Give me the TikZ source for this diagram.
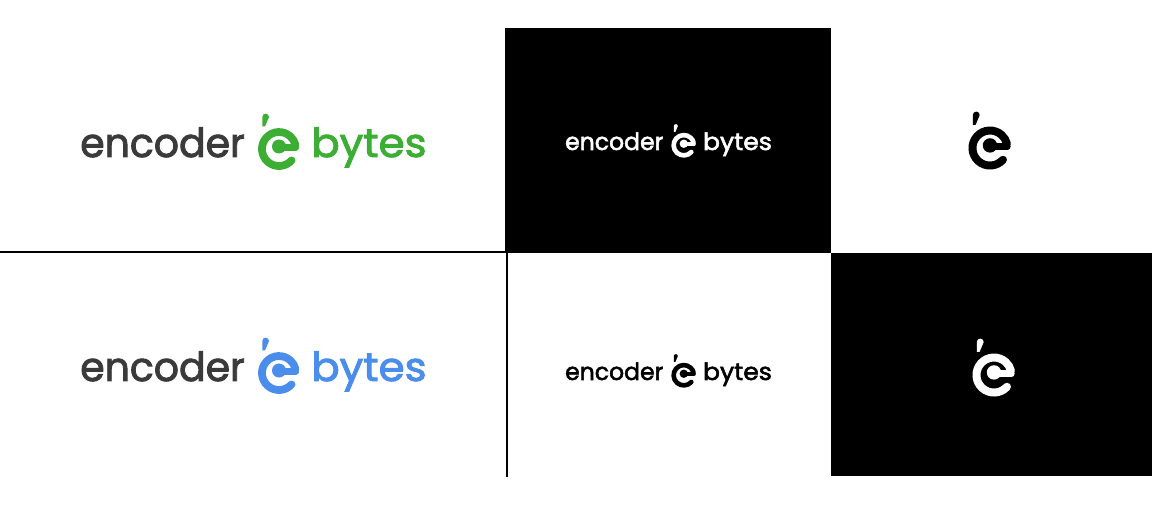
\documentclass[tikz,border=0pt]{standalone}
\usepackage{fontspec}
\setmainfont{Poppins}
\newfontfamily\logofont[FakeBold=2.2]{Poppins}
\definecolor{logogreen}{HTML}{3DAE34}
\definecolor{logoblue}{HTML}{4A8DEB}
\definecolor{logogrey}{HTML}{3A3A3A}
\tikzset{
  x=0.75pt,y=-0.75pt,
  panel/.style={fill=black,draw=none},
  rule/.style={line width=2.1pt,draw=black},
  word/.style={inner sep=0pt,font=\logofont\fontsize{30}{30}\selectfont,anchor=base west},
}
% mark drawn around its ring centre, in a unit of one pixel of the large logo
\newcommand\logomark[4]{% x, y, scale, colour
  \begin{scope}[shift={(#1,#2)},scale=#3]
    \fill[#4] (-16.7,-22.5) -- (-16.7,-32) arc[start angle=180,end angle=360,radius=3.35] -- (-14,-22.5) -- cycle;
    \draw[#4,line cap=round,line width=5.8*#3pt] (12.6,11.4) arc[start angle=42,end angle=345,radius=17];
    \draw[#4,line cap=round,line width=4.6*#3pt] (17,-1.5) -- (0,-1.5);
    \fill[#4] (0,-2.5) circle[radius=7];
  \end{scope}}
\newcommand\logotext[7]{% name, x, y, scale, colour, colour, mark offset
  \node[word,text=#5,xscale=#4*0.985,yscale=#4] (#1a) at (#2,#3) {encoder};
  \node[word,text=#6,xscale=#4*1.05,yscale=#4] (#1b) at ({#2+231*#4},#3) {bytes};
  \logomark{#2+#7*#4}{#3-8*#4}{#4}{#6}}
\begin{document}
\begin{tikzpicture}
\useasboundingbox (0,0) rectangle (1152,505);
\fill[white] (0,0) rectangle (1152,505);
\fill[panel] (505.3,28) rectangle (831,251);
\fill[panel] (831,253) rectangle (1151.5,476);
\coordinate (hl) at (0,252);
\coordinate (hr) at (831,252);
\coordinate (vt) at (507,252);
\coordinate (vb) at (507,476.5);
\draw[rule] (hl) -- (hr);
\draw[rule] (vt) -- (vb);
\logotext{g}{80}{157}{1}{logogrey}{logogreen}{199}
\logotext{b}{80}{381}{1}{logogrey}{logoblue}{199}
\logotext{w}{565}{150}{0.597}{white}{white}{199}
\logotext{k}{565}{380}{0.597}{black}{black}{199}
\logomark{990}{148}{1.03}{black}
\logomark{994}{375}{1.03}{white}
\end{tikzpicture}
\end{document}
